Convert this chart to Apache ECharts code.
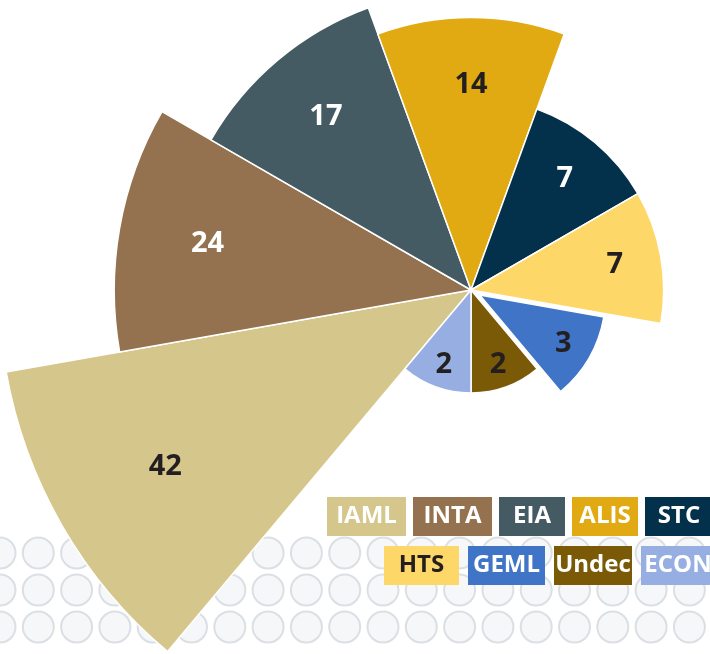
<!DOCTYPE html>
<html>
<head>
<meta charset="utf-8">
<script src="https://cdn.jsdelivr.net/npm/echarts@6/dist/echarts.min.js"></script>
<style>
  html, body { margin: 0; padding: 0; background: #fff; }
  #chart { width: 710px; height: 654px; }
</style>
</head>
<body>
<div id="chart"></div>
<script>
const groups = ["IAML", "INTA", "EIA", "ALIS", "STC", "HTS", "GEML", "Undec", "ECON"];
const counts = [42, 24, 17, 14, 7, 7, 3, 2, 2];
const colors = ["#d5c68c", "#94724f", "#455b63", "#e1aa12", "#03304b", "#fdd768", "#3f74c7", "#7b5a07", "#97aee3"];
const labelColors = ["#231f20", "#fff", "#fff", "#231f20", "#fff", "#231f20", "#231f20", "#231f20", "#231f20"];
const legendRow1 = ["IAML", "INTA", "EIA", "ALIS", "STC"];
const legendRow2 = ["HTS", "GEML", "Undec", "ECON"];
const legendWidths = { IAML: 79, INTA: 79, EIA: 66, ALIS: 66, STC: 68, HTS: 75, GEML: 77, Undec: 78, ECON: 74 };
const legendTextColors = { HTS: "#231f20" };
// decorative dot pattern behind the chart
const dotRows = [553, 590, 627];
const dotCount = 19;
const dotStep = 38.3;

const font = "'Open Sans', 'Noto Sans', sans-serif";
const chart = echarts.init(document.getElementById("chart"));

// radius is proportional to sqrt(count) so that wedge area follows the count
const roseData = groups.map((name, i) => ({
  name,
  value: Math.sqrt(counts[i]),
  selected: name === "GEML",
  itemStyle: { color: colors[i] },
}));
const labelData = groups.map((name, i) => ({
  name,
  value: Math.sqrt(counts[i]),
  count: counts[i],
  selected: name === "GEML",
  label: { color: labelColors[i] },
}));

const dots = [];
dotRows.forEach(y => { for (let k = 0; k < dotCount; k++) dots.push([k * dotStep, y]); });

const rich = {};
groups.forEach((name, i) => {
  rich[name] = {
    backgroundColor: colors[i],
    color: legendTextColors[name] || "#fff",
    width: legendWidths[name],
    height: 39,
    lineHeight: 39,
    align: "center",
    fontSize: 24,
    fontWeight: "bold",
    fontFamily: font,
  };
});
const legendBase = {
  orient: "horizontal",
  icon: "rect",
  itemWidth: 0,
  itemHeight: 0,
  padding: 0,
  width: 700,
  selectedMode: false,
  formatter: name => `{${name}|${name}}`,
  textStyle: { rich },
};

chart.setOption({
  backgroundColor: "#fff",
  animation: false,
  grid: { left: 0, right: 0, top: 0, bottom: 0 },
  xAxis: { type: "value", min: 0, max: 710, show: false },
  yAxis: { type: "value", min: 0, max: 654, inverse: true, show: false },
  legend: [
    { ...legendBase, left: 321, top: 497, itemGap: 1, data: legendRow1 },
    { ...legendBase, left: 378, top: 546, itemGap: 3, data: legendRow2 },
  ],
  series: [
    {
      type: "scatter",
      z: 0,
      silent: true,
      symbol: "circle",
      symbolSize: 31,
      itemStyle: { color: "#f4f5f8", borderColor: "#d3d8df", borderWidth: 2 },
      data: dots,
    },
    {
      type: "pie",
      z: 3,
      roseType: "area",
      center: [471, 290],
      radius: [0, 472],
      startAngle: 230,
      clockwise: true,
      selectedMode: "multiple",
      selectedOffset: 10,
      itemStyle: { borderColor: "#fff", borderWidth: 1.5 },
      label: { show: false },
      labelLine: { show: false },
      emphasis: { disabled: true },
      data: roseData,
    },
    {
      // transparent twin used only to place the count labels further out
      type: "pie",
      z: 4,
      silent: true,
      roseType: "area",
      center: [471, 290],
      radius: [0, 700],
      startAngle: 230,
      clockwise: true,
      selectedMode: "multiple",
      selectedOffset: 10,
      itemStyle: { color: "rgba(0,0,0,0)", borderWidth: 0 },
      label: {
        show: true,
        position: "inside",
        formatter: p => p.data.count,
        fontSize: 29,
        fontWeight: "bold",
        fontFamily: font,
      },
      labelLine: { show: false },
      emphasis: { disabled: true },
      data: labelData,
    },
  ],
});
</script>
</body>
</html>
